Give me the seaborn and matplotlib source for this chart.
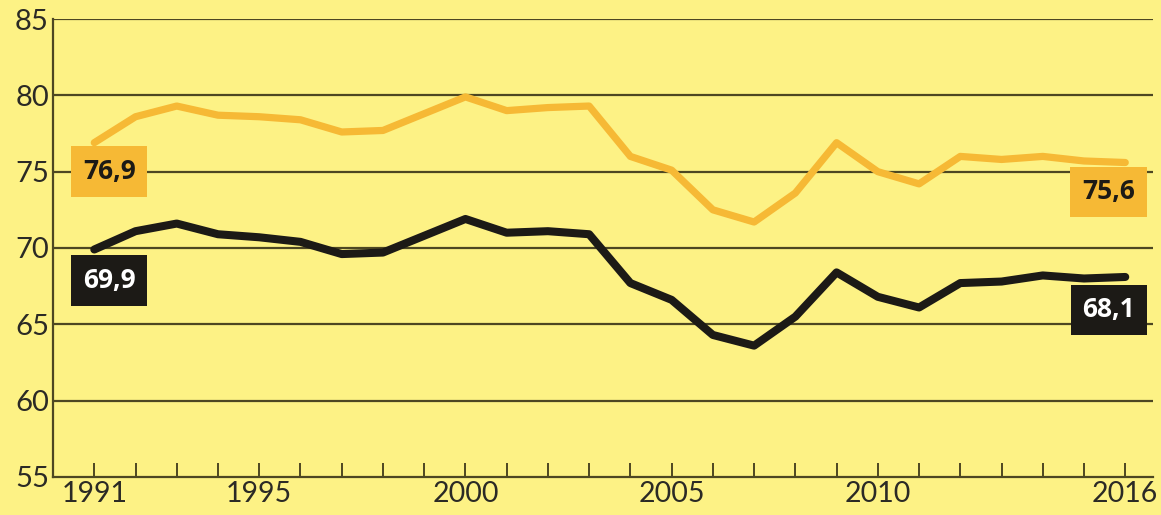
import matplotlib
matplotlib.use("Agg")
import matplotlib.pyplot as plt
import numpy as np
import pandas as pd
import seaborn as sns

# Annual values, 1991-2016
years = list(range(1991, 2017))
orange_vals = [76.9, 78.6, 79.3, 78.7, 78.6, 78.4, 77.6, 77.7, 78.8, 79.9,
               79.0, 79.2, 79.3, 76.0, 75.1, 72.5, 71.7, 73.6, 76.9, 75.0,
               74.2, 76.0, 75.8, 76.0, 75.7, 75.6]
black_vals = [69.9, 71.1, 71.6, 70.9, 70.7, 70.4, 69.6, 69.7, 70.8, 71.9,
              71.0, 71.1, 70.9, 67.7, 66.6, 64.3, 63.6, 65.5, 68.4, 66.8,
              66.1, 67.7, 67.8, 68.2, 68.0, 68.1]
y_ticks = [55, 60, 65, 70, 75, 80, 85]
x_labels = [1991, 1995, 2000, 2005, 2010, 2016]

BG = "#fdf285"
ORANGE = "#f6b935"
BLACK = "#1c1a16"
GRID = "#4d4722"
TEXT = "#2b2a25"

sns.set_theme(style="white")
plt.rcParams["font.family"] = ["Lato", "DejaVu Sans"]

df = pd.DataFrame({
    "year": years * 2,
    "value": orange_vals + black_vals,
    "series": ["orange"] * len(years) + ["black"] * len(years),
})

fig = plt.figure(figsize=(11.61, 5.15), dpi=100, facecolor=BG)
ax = fig.add_axes([0.0457, 0.074, 0.9473, 0.889])
ax.set_facecolor(BG)

for y in y_ticks[1:]:
    ax.axhline(y, color=GRID, lw=1.6, zorder=1)

sns.lineplot(data=df[df.series == "orange"], x="year", y="value", ax=ax,
             color=ORANGE, lw=5.2, zorder=3)
sns.lineplot(data=df[df.series == "black"], x="year", y="value", ax=ax,
             color=BLACK, lw=5.8, zorder=4)

ax.set_xlim(1990.0, 2016.67)
ax.set_ylim(55, 85)
ax.set_yticks(y_ticks)
ax.set_xticks(years)
ax.set_xticklabels([str(y) if y in x_labels else "" for y in years])
ax.set_xlabel("")
ax.set_ylabel("")

ax.tick_params(axis="x", direction="in", length=10, width=1.4, color=GRID,
               labelsize=20.5, labelcolor=TEXT, pad=3, bottom=True)
ax.tick_params(axis="y", length=0, labelsize=21, labelcolor=TEXT, pad=3)

for side in ["top", "right"]:
    ax.spines[side].set_visible(False)
for side in ["left", "bottom"]:
    ax.spines[side].set_color(GRID)
    ax.spines[side].set_linewidth(1.6)

def fmt(v):
    return f"{v:.1f}".replace(".", ",")

label_style = dict(ha="center", va="center", fontsize=19, fontweight="bold",
                   family=["Open Sans", "DejaVu Sans"], zorder=6)
box = "square,pad=0.45"
ax.text(1991.36, 75.0, fmt(orange_vals[0]), color=BLACK,
        bbox=dict(boxstyle=box, fc=ORANGE, ec="none"), **label_style)
ax.text(1991.36, 67.85, fmt(black_vals[0]), color="white",
        bbox=dict(boxstyle=box, fc=BLACK, ec="none"), **label_style)
ax.text(2015.6, 73.67, fmt(orange_vals[-1]), color=BLACK,
        bbox=dict(boxstyle=box, fc=ORANGE, ec="none"), **label_style)
ax.text(2015.6, 65.94, fmt(black_vals[-1]), color="white",
        bbox=dict(boxstyle=box, fc=BLACK, ec="none"), **label_style)

fig.savefig("out.png", dpi=100, facecolor=BG)
